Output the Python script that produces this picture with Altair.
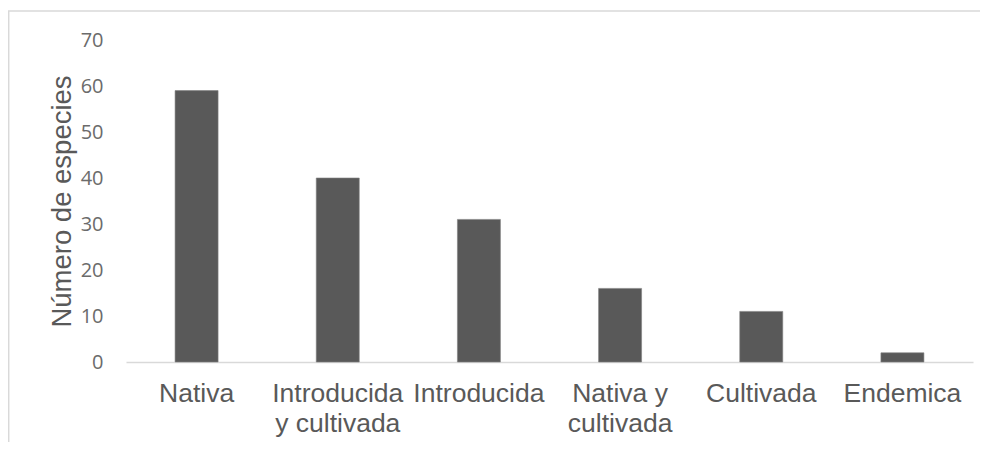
import altair as alt
import pandas as pd

categories = ["Nativa", "Introducida\ny cultivada", "Introducida", "Nativa y\ncultivada", "Cultivada", "Endemica"]
values = [59, 40, 31, 16, 11, 2]

df = pd.DataFrame({"cat": categories, "n": values})

bars = alt.Chart(df).mark_bar(size=43, color="#595959", stroke="#7f7f7f", strokeWidth=0.6).encode(
    x=alt.X("cat:N", sort=None, title=None,
            scale=alt.Scale(paddingInner=0, paddingOuter=0),
            axis=alt.Axis(labelAngle=0, labelExpr="split(datum.label, '\\n')",
                          labelFont="Liberation Sans", labelFontSize=26.5, labelColor="#595959",
                          labelLineHeight=30, labelPadding=18, ticks=False,
                          domainColor="#d9d9d9", domainWidth=1.5, labelBaseline="top")),
    y=alt.Y("n:Q", title="Número de especies",
            scale=alt.Scale(domain=[0, 70]),
            axis=alt.Axis(values=[0, 10, 20, 30, 40, 50, 60, 70], grid=False, domain=False, ticks=False,
                          labelFont="Open Sans", labelFontSize=20, labelColor="#6b6b6b",
                          labelPadding=23, titleFont="Liberation Sans", titleFontSize=27.5,
                          titleFontWeight="normal", titleColor="#595959", titlePadding=4)),
)

frame_df = pd.DataFrame({"k": [0]})
top_line = alt.Chart(frame_df).mark_rule(color="#d9d9d9", strokeWidth=1.5).encode(
    x=alt.value(-118), x2=alt.value(1000), y=alt.value(-29))
left_line = alt.Chart(frame_df).mark_rule(color="#d9d9d9", strokeWidth=1.5).encode(
    x=alt.value(-117.3), y=alt.value(-29), y2=alt.value(500))

chart = alt.layer(bars, top_line, left_line).properties(
    width=847, height=322,
    autosize=alt.AutoSizeParams(type="none"),
    padding={"left": 118, "top": 32, "right": 7, "bottom": 80},
).configure_view(stroke=None)

chart.save("out.html", embed_options={"renderer": "svg", "actions": False})
